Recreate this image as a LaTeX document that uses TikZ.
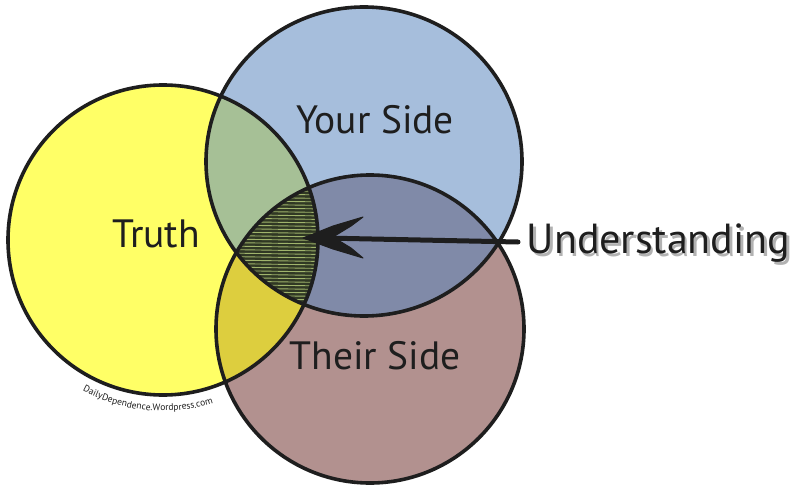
\documentclass[tikz,border=0pt]{standalone}
\usepackage{fontspec}
\setmainfont{PT Sans}
\usetikzlibrary{arrows.meta,decorations.text}

\definecolor{cyel}{RGB}{255,255,102}
\definecolor{cblue}{RGB}{166,190,220}
\definecolor{cbrown}{RGB}{178,145,143}
\definecolor{cyb}{RGB}{166,192,150}
\definecolor{cyr}{RGB}{221,206,62}
\definecolor{cbr}{RGB}{128,138,168}
\definecolor{chdark}{RGB}{48,56,36}
\definecolor{chlight}{RGB}{160,180,108}
\definecolor{cink}{RGB}{30,30,30}

\tikzset{
  outline/.style={draw=cink, line width=3.6pt},
  lbl/.style={font=\fontsize{39.5}{42}\selectfont, text=cink, inner sep=0pt, anchor=base},
  biglbl/.style={font=\fontsize{42}{45}\selectfont, inner sep=0pt, anchor=base},
  hatchline/.style={chlight, line width=0.9pt},
  shaft/.style={cink, line width=5pt, line cap=round},
  arrowhead/.style={fill=cink, draw=cink, line width=1pt, line join=round}
}

\begin{document}
\begin{tikzpicture}[x=1pt,y=-1pt]
\useasboundingbox (0,0) rectangle (800,495);
\fill[white] (0,0) rectangle (800,495);

% base fills
\fill[cyel] (163,240) ellipse [x radius=155, y radius=155];
\fill[cblue] (364,161.5) ellipse [x radius=158, y radius=154.5];
\fill[cbrown] (370,329) ellipse [x radius=154, y radius=154];

% pairwise intersections
\begin{scope}
  \clip (163,240) ellipse [x radius=155, y radius=155];
  \fill[cyb] (364,161.5) ellipse [x radius=158, y radius=154.5];
  \fill[cyr] (370,329) ellipse [x radius=154, y radius=154];
\end{scope}
\begin{scope}
  \clip (364,161.5) ellipse [x radius=158, y radius=154.5];
  \fill[cbr] (370,329) ellipse [x radius=154, y radius=154];
\end{scope}

% triple intersection, hatched
\begin{scope}
  \clip (163,240) ellipse [x radius=155, y radius=155];
  \clip (364,161.5) ellipse [x radius=158, y radius=154.5];
  \fill[chdark] (370,329) ellipse [x radius=154, y radius=154];
  \clip (370,329) ellipse [x radius=154, y radius=154];
  \foreach \yy in {176,179.5,...,312} {
    \draw[hatchline] (225,\yy) -- (325,\yy+1.5);
  }
\end{scope}

% outlines
\draw[outline] (163,240) ellipse [x radius=155, y radius=155];
\draw[outline] (364,161.5) ellipse [x radius=158, y radius=154.5];
\draw[outline] (370,329) ellipse [x radius=154, y radius=154];

% labels
\node[lbl] (truth) at (156,247) {Truth};
\node[lbl] (your) at (375,133) {Your Side};
\node[lbl] (their) at (375,369) {Their Side};
\node[biglbl, text=cink] (und) at (658.5,253)
  {\rlap{\hspace{2.5pt}\raisebox{-3pt}{\color{black!30}Understanding}}Understanding};

% arrow
\coordinate (tip) at (303,238);
\coordinate (tail) at (518,242);
\draw[shaft] (tail) -- ([xshift=20pt]tip);
\filldraw[arrowhead] (tip) -- ++(30,-12) -- ++(30,-9) -- ++(-12,9) -- ++(-18,11)
  -- ++(18,11) -- ++(12,10) -- ++(-30,-9) -- cycle;

% credit along the circle
\path[decorate, decoration={text along path, raise=0pt,
  text={|\fontsize{9.5}{10}\selectfont\color{cink}|DailyDependence.Wordpress.com},
  text align=center}]
  (163,240) ++(123:171) arc[start angle=123, end angle=68, radius=171];
\end{tikzpicture}
\end{document}
